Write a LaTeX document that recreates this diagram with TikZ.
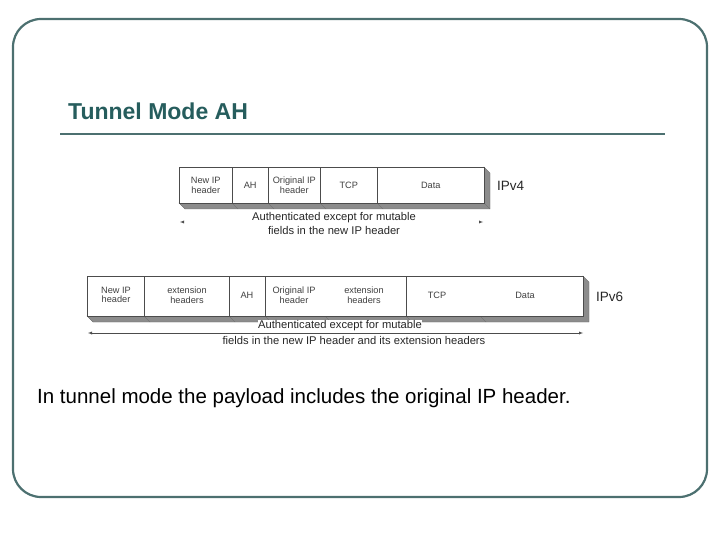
\documentclass[tikz,border=0pt]{standalone}
\usepackage{fontspec}
\setmainfont{Liberation Sans}
\usetikzlibrary{calc}
\begin{document}
\begin{tikzpicture}[x=1pt,y=-1pt,
  cell/.style={draw=black!70,line width=0.5pt,fill=white},
  shad/.style={fill=black!45,draw=black!60,line width=0.3pt},
  small/.style={font=\fontsize{9.2}{9.6}\selectfont,text=black!75,align=center,inner sep=0pt},
  lab/.style={font=\fontsize{11.2}{13.5}\selectfont,text=black!85,align=center,inner sep=0pt}]
\useasboundingbox (0,0) rectangle (720,540);
\draw[color=teal!40!black!70,line width=2.2pt,rounded corners=28pt] (13,19) rectangle (707,497);
\node[anchor=west,font=\bfseries\fontsize{23}{25}\selectfont,text=teal!50!black!85,inner sep=0pt] (title) at (68,111) {Tunnel Mode AH};
\draw[color=teal!40!black!70,line width=2pt] (60,134) -- (665,134);
% IPv4
\fill[shad] (179,203) -- (185,209) -- (490,209) -- (490,173) -- (484,167) -- (484,203) -- cycle;
\foreach \b in {232,268,320,377,484}{\draw[black!60,line width=0.3pt] (\b,203) -- ++(6,6);}
\draw[black!60,line width=0.3pt] (179,203) -- (185,209);
\foreach \a/\b/\t [count=\i] in {179/232/{New IP\\header},232/268/{AH},268/320/{Original IP\\header},320/377/{TCP},377/484/{Data}}{
  \node[cell,minimum height=36pt,minimum width={\b-\a},inner sep=0pt,anchor=north west] (v4c\i) at (\a,167) {};
  \node[small] at (v4c\i.center) {\t};}
\node[lab,anchor=west,font=\fontsize{13.5}{14}\selectfont] (ipv4) at (497,186) {IPv4};
\coordinate (v4l) at (180,222); \coordinate (v4r) at (483,222);
\draw[-latex,black!70,line width=0.4pt] ($(v4r)+(-3,0)$) -- (v4r);
\draw[-latex,black!70,line width=0.4pt] ($(v4l)+(3,0)$) -- (v4l);
\node[lab] (auth4) at (334,223.5) {Authenticated except for mutable\\fields in the new IP header};
% IPv6
\fill[shad] (87,316) -- (93,322) -- (589,322) -- (589,282) -- (583,276) -- (583,316) -- cycle;
\foreach \b in {87,144,229,265,325,406,480}{\draw[black!60,line width=0.3pt] (\b,316) -- ++(6,6);}
\foreach \a/\b [count=\i] in {87/144,144/229,229/265,265/406,406/583}{
  \node[cell,minimum height=40pt,minimum width={\b-\a},inner sep=0pt,anchor=north west] (v6c\i) at (\a,276) {};}
\node[small] (t1) at (116,295) {New IP\\header};
\node[small] (t2) at (187,295) {extension\\headers};
\node[small] (t3) at (247,295) {AH};
\node[small] (t4) at (294,295) {Original IP\\header};
\node[small] (t5) at (364,295) {extension\\headers};
\node[small] (t6) at (437,295) {TCP};
\node[small] (t7) at (525,295) {Data};
\node[lab,anchor=west,font=\fontsize{13.5}{14}\selectfont] (ipv6) at (596,297) {IPv6};
\coordinate (v6l) at (88,333); \coordinate (v6r) at (583,333);
\draw[latex-latex,black!70,line width=0.4pt] (v6l) -- (v6r);
\node[lab,fill=white,inner sep=0.5pt] (a6a) at (340,326) {Authenticated except for mutable};
\node[lab,inner sep=0.5pt] (a6b) at (354,340) {fields in the new IP header and its extension headers};
\node[anchor=west,font=\fontsize{20.5}{22}\selectfont,inner sep=0pt] (caption) at (37,398) {In tunnel mode the payload includes the original IP header.};
\end{tikzpicture}
\end{document}
